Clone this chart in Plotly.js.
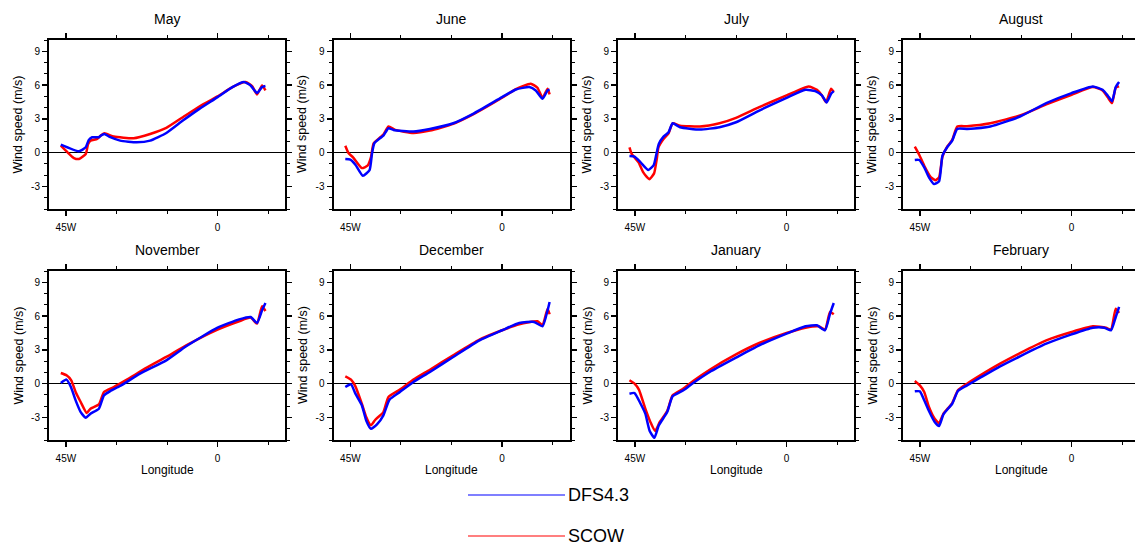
<!DOCTYPE html>
<html>
<head>
<meta charset="utf-8">
<script src="https://cdn.plot.ly/plotly-3.0.1.min.js"></script>
<style>
html,body{margin:0;padding:0;overflow:hidden;background:#fff;width:1135px;height:545px;}
#chart{width:1145px;height:545px;}
</style>
</head>
<body>
<div id="chart"></div>
<script>
// ---- Data (longitude in degrees, negative = West; wind speed in m/s) ----
const months = ['May','June','July','August','November','December','January','February'];
const seriesNames = ['DFS4.3','SCOW'];
const xTickVals = [-45, 0];
const xTickText = ['45W', '0'];
const yTickVals = [-3, 0, 3, 6, 9];

const mayLonDfs = [-46.5,-41.1,-39.1,-38.2,-37.2,-35.2,-34.7,-33.6,-31.8,-28.9,-24,-20,-15.2,-10.3,-5.4,0,4.4,7.8,9.8,11.7,13.2,14.2];
const mayDfs    = [0.71,0.12,0.48,1.13,1.37,1.37,1.5,1.66,1.37,1.07,0.92,1.07,1.75,2.85,3.89,4.93,5.82,6.27,5.97,5.29,5.82,5.91];
const mayLonScow = [-46.5,-44.5,-42.6,-41.1,-39.1,-38.4,-37.7,-35.7,-34.7,-33.6,-30.8,-24.9,-20,-15.2,-10.3,-5.4,0,4.4,8.3,10.3,11.7,13.2,14.2];
const mayScow    = [0.62,0.03,-0.48,-0.56,-0.12,0.77,1.07,1.22,1.5,1.72,1.43,1.28,1.66,2.2,3.15,4.1,4.99,5.82,6.27,5.88,5.17,5.97,5.52];

const junLonDfs = [-46.5,-45,-43.5,-41.3,-39.3,-38.6,-37.9,-36.1,-35.2,-33.7,-32.2,-26.3,-21.4,-14.5,-8.6,0,4.1,8.1,10,12,13.5,14.1];
const junDfs    = [-0.56,-0.62,-1.07,-2.05,-1.54,-0.12,0.83,1.31,1.51,2.17,2.02,1.87,2.1,2.61,3.45,4.93,5.61,5.82,5.52,4.78,5.52,5.58];
const junLonScow = [-46.5,-45.5,-44.2,-41.6,-39.9,-38.9,-38.1,-36.1,-35.2,-33.7,-31.7,-26.3,-21.4,-14.5,-8.6,0,4.1,8.5,10.5,12,13.5,14.1];
const junScow    = [0.62,-0.06,-0.42,-1.37,-1.16,-0.42,0.83,1.37,1.6,2.32,2.02,1.75,1.96,2.55,3.39,4.87,5.64,6.12,5.76,4.87,5.67,5.17];

const julLonDfs = [-46.6,-45.1,-43.3,-41,-39.4,-38.6,-37.9,-36.5,-35,-33.8,-31.6,-25.7,-19.9,-15,-8.1,0,5.6,8.5,10.5,11.9,13.2,14];
const julDfs    = [-0.3,-0.36,-0.86,-1.54,-1.1,-0.12,0.77,1.43,1.81,2.61,2.26,2.05,2.26,2.7,3.74,4.87,5.58,5.46,5.08,4.45,5.23,5.46];
const julLonScow = [-46.6,-45.9,-43.9,-42.5,-40.7,-39.3,-38.5,-38,-36.5,-35,-33.8,-31.6,-25.7,-19.9,-15,-8.1,0,6.5,9,10.5,11.7,13.2,14];
const julScow    = [0.48,-0.12,-0.86,-1.75,-2.35,-1.84,-0.56,0.48,1.22,1.72,2.61,2.4,2.32,2.61,3.09,4.04,5.08,5.88,5.58,5.08,4.48,5.67,5.38];

const augLonDfs = [-46.5,-45.2,-43.7,-42.3,-40.8,-39.3,-38.3,-36.9,-35.4,-33.9,-31,-24.1,-15.3,-7.5,0,6.3,9.2,10.7,12,13.1,14.1];
const augDfs    = [-0.65,-0.65,-1.31,-2.2,-2.79,-2.55,-0.27,0.48,1.07,2.11,2.11,2.32,3.21,4.4,5.29,5.88,5.58,5.08,4.57,5.82,6.27];
const augLonScow = [-46.5,-45.2,-43.7,-41.7,-40.3,-39.3,-38.3,-36.9,-35.4,-33.9,-31,-24.1,-15.3,-7.5,0,6.3,9.2,10.7,12,13.1,14.1];
const augScow    = [0.53,-0.18,-1.16,-2.2,-2.44,-2.2,-0.36,0.53,1.13,2.32,2.35,2.61,3.3,4.28,5.14,5.82,5.52,4.93,4.4,5.76,5.88];

const novLonDfs = [-46.5,-44.8,-43.5,-42.1,-40.6,-39.1,-37.7,-35.2,-33.7,-31.8,-28.9,-23,-15.2,-9.3,0,6.4,9.8,11.7,13.2,14.2];
const novDfs    = [0.06,0.36,-0.3,-1.48,-2.52,-3.02,-2.66,-2.22,-1.04,-0.65,-0.21,0.89,2.07,3.32,4.97,5.71,5.92,5.39,6.51,7.16];
const novLonScow = [-46.5,-44.8,-43.4,-42.1,-40.6,-38.8,-37.7,-35.2,-33.7,-30.8,-26.9,-21,-15.2,-9.3,0,6.4,9.8,11.7,13.2,14.2];
const novScow    = [0.95,0.74,0.3,-0.74,-1.63,-2.6,-2.22,-1.84,-0.74,-0.3,0.36,1.42,2.37,3.4,4.8,5.54,5.86,5.33,6.87,6.45];

const decLonDfs = [-46.5,-44.8,-43.5,-41.6,-40.3,-38.9,-37.1,-35.2,-33.4,-30.3,-26.3,-21.4,-14.5,-6.7,0,5.1,9.5,12,13.5,14.1];
const decDfs    = [-0.3,-0.06,-0.89,-1.92,-3.26,-4.0,-3.61,-2.81,-1.42,-0.74,0.15,1.04,2.37,3.85,4.74,5.39,5.48,5.09,6.51,7.25];
const decLonScow = [-46.5,-44.8,-43.5,-41.6,-40.3,-38.9,-37.6,-35.2,-33.7,-30.3,-26.3,-21.4,-14.5,-6.7,0,5.1,10.5,12,13.5,14.1];
const decScow    = [0.65,0.36,-0.24,-1.78,-2.96,-3.7,-3.2,-2.52,-1.18,-0.53,0.36,1.24,2.52,3.91,4.74,5.27,5.54,5.18,6.66,6.16];

const janLonDfs = [-46.6,-45.1,-43.3,-41.9,-40.6,-39.2,-37.9,-35.4,-33.8,-30.6,-27.7,-22.8,-15,-8.1,0,5.6,9,11.4,12.9,14];
const janDfs    = [-0.89,-0.83,-1.78,-2.66,-4.2,-4.8,-3.7,-2.52,-1.12,-0.59,0.06,1.04,2.31,3.4,4.44,5.09,5.18,4.74,6.22,7.16];
const janLonScow = [-46.6,-45.1,-43.8,-41.9,-40.4,-39,-37.6,-35.4,-33.8,-30.6,-27.7,-22.8,-15,-8.1,0,5.6,9.5,11.4,12.9,14];
const janScow    = [0.3,0,-0.53,-2.22,-3.4,-4.2,-3.4,-2.43,-1.04,-0.44,0.24,1.24,2.6,3.61,4.5,4.97,5.09,4.8,6.36,6.16];

const febLonDfs = [-46.5,-45,-43.7,-42.3,-40.6,-39.3,-38,-35.4,-33.7,-31,-27.1,-21.2,-15.3,-7.5,0,6.3,9.7,11.7,13.1,14.1];
const febDfs    = [-0.68,-0.68,-1.48,-2.43,-3.4,-3.76,-2.72,-1.78,-0.65,-0.15,0.53,1.54,2.43,3.55,4.38,4.97,4.97,4.74,5.92,6.81];
const febLonScow = [-46.5,-45,-43.7,-42.3,-40.6,-39.3,-38,-35.4,-33.7,-31,-27.1,-21.2,-15.3,-7.5,0,6.3,10.2,11.7,13.1,14.1];
const febScow    = [0.24,-0.15,-0.74,-2.07,-3.11,-3.49,-2.66,-1.72,-0.59,0,0.74,1.78,2.72,3.85,4.59,5.09,4.97,4.8,6.66,6.28];

const dfsLons  = [mayLonDfs, junLonDfs, julLonDfs, augLonDfs, novLonDfs, decLonDfs, janLonDfs, febLonDfs];
const dfsVals  = [mayDfs, junDfs, julDfs, augDfs, novDfs, decDfs, janDfs, febDfs];
const scowLons = [mayLonScow, junLonScow, julLonScow, augLonScow, novLonScow, decLonScow, janLonScow, febLonScow];
const scowVals = [mayScow, junScow, julScow, augScow, novScow, decScow, janScow, febScow];

// ---- Layout geometry (pixels) ----
const W = 1145, H = 545;
const colLeft = [49, 333.5, 618, 903];
const panelW = 236;
const rowTop = [40, 271];
const panelH = 169;
const FONT = 'Liberation Sans, Arial, Helvetica, sans-serif';

const traces = [];
const layout = {
  width: W, height: H,
  margin: {l: 0, r: 0, t: 0, b: 0},
  paper_bgcolor: '#fff', plot_bgcolor: '#fff',
  showlegend: false,
  font: {family: FONT, color: '#000'},
  annotations: [], shapes: []
};

months.forEach((m, i) => {
  const r = Math.floor(i / 4), c = i % 4;
  const xs = i === 0 ? '' : String(i + 1);
  const x0 = colLeft[c] / W, x1 = (colLeft[c] + panelW) / W;
  const y1 = 1 - rowTop[r] / H, y0 = 1 - (rowTop[r] + panelH) / H;

  traces.push({x: scowLons[i], y: scowVals[i], type: 'scatter', mode: 'lines', name: seriesNames[1],
    xaxis: 'x' + xs, yaxis: 'y' + xs, line: {color: '#ff0000', width: 2.5, shape: 'spline', smoothing: 0.5}, hoverinfo: 'skip'});
  traces.push({x: dfsLons[i], y: dfsVals[i], type: 'scatter', mode: 'lines', name: seriesNames[0],
    xaxis: 'x' + xs, yaxis: 'y' + xs, line: {color: '#0000ff', width: 2.5, shape: 'spline', smoothing: 0.5}, hoverinfo: 'skip'});

  layout['xaxis' + xs] = {
    domain: [x0, x1], anchor: 'y' + xs, range: [-50, 20],
    tickmode: 'array', tickvals: xTickVals, ticktext: xTickText,
    ticks: 'outside', ticklen: 5, tickwidth: 1.5, tickcolor: '#000',
    minor: {tickmode: 'array', tickvals: [-30, -15, 15], ticks: 'outside', ticklen: 3, tickwidth: 1, tickcolor: '#000', showgrid: false},
    showline: true, linewidth: 2, linecolor: '#000', mirror: 'ticks',
    showgrid: false, zeroline: false,
    tickfont: {size: 10, family: FONT, color: '#000'},
    ticklabelstandoff: 3
  };
  layout['yaxis' + xs] = {
    domain: [y0, y1], anchor: 'x' + xs, range: [-5, 10],
    tickmode: 'array', tickvals: yTickVals, ticktext: yTickVals.map(String),
    ticks: 'outside', ticklen: 5, tickwidth: 1.5, tickcolor: '#000',
    minor: {dtick: 1, tick0: 0, ticks: 'outside', ticklen: 3, tickwidth: 1, tickcolor: '#000', showgrid: false},
    showline: true, linewidth: 2, linecolor: '#000', mirror: 'ticks',
    showgrid: false, zeroline: true, zerolinecolor: '#000', zerolinewidth: 1,
    tickfont: {size: 10, family: FONT, color: '#000'}
  };

  // panel title
  layout.annotations.push({text: m, xref: 'paper', yref: 'paper',
    x: (colLeft[c] + panelW / 2) / W, y: 1 - (rowTop[r] - 21) / H,
    xanchor: 'center', yanchor: 'middle', showarrow: false,
    font: {size: 14, family: FONT, color: '#000'}});
  // y-axis title
  layout.annotations.push({text: 'Wind speed (m/s)', xref: 'paper', yref: 'paper',
    x: (colLeft[c] - 31) / W, y: 1 - (rowTop[r] + panelH / 2) / H, textangle: -90,
    xanchor: 'center', yanchor: 'middle', showarrow: false,
    font: {size: 12.5, family: FONT, color: '#000'}});
  // x-axis title (bottom row only)
  if (r === 1) {
    layout.annotations.push({text: 'Longitude', xref: 'paper', yref: 'paper',
      x: (colLeft[c] + panelW / 2) / W, y: 1 - (rowTop[r] + panelH + 30) / H,
      xanchor: 'center', yanchor: 'middle', showarrow: false,
      font: {size: 12, family: FONT, color: '#000'}});
  }
});

// ---- Legend (drawn as shapes + text) ----
const legY = [495, 536];
const legColors = ['#0000ff', '#ff0000'];
seriesNames.forEach((n, k) => {
  layout.shapes.push({type: 'line', xref: 'paper', yref: 'paper',
    x0: 468 / W, x1: 565 / W, y0: 1 - legY[k] / H, y1: 1 - legY[k] / H,
    line: {color: legColors[k], width: 1.2}});
  layout.annotations.push({text: n, xref: 'paper', yref: 'paper',
    x: 566 / W, y: 1 - legY[k] / H, xanchor: 'left', yanchor: 'middle', showarrow: false,
    font: {size: 18, family: FONT, color: '#000'}});
});

Plotly.newPlot('chart', traces, layout, {staticPlot: true, displayModeBar: false});
</script>
</body>
</html>
